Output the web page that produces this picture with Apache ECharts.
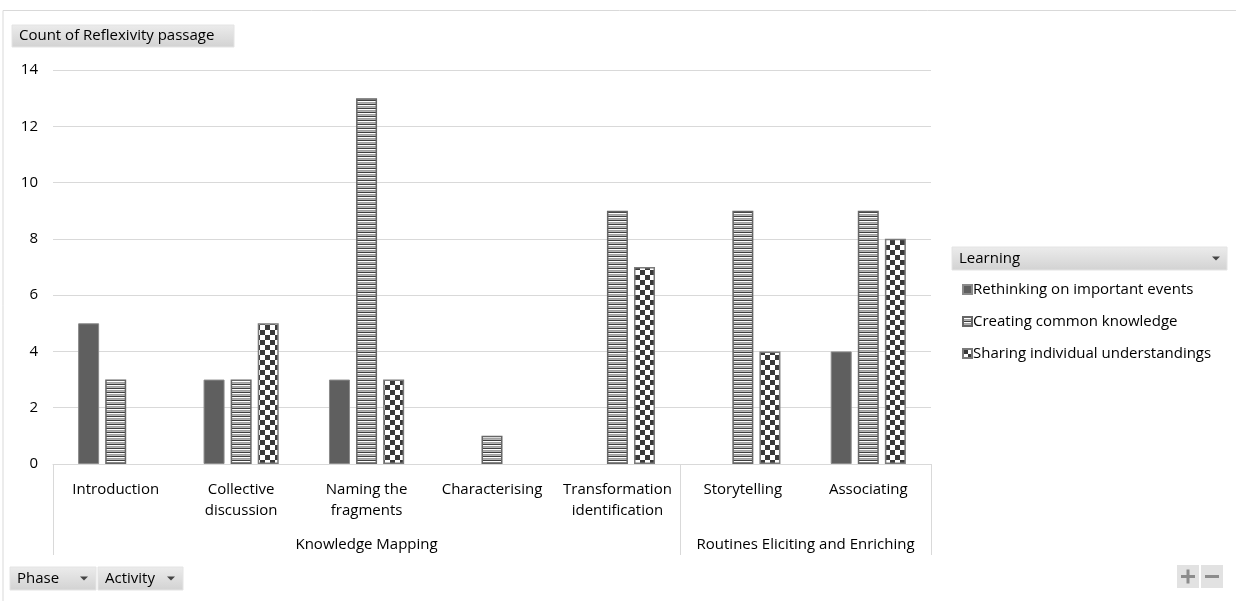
<!DOCTYPE html>
<html>
<head>
<meta charset="utf-8">
<script src="https://cdn.jsdelivr.net/npm/echarts@6/dist/echarts.min.js"></script>
<style>
	html, body {margin: 0; padding: 0; background: #fff;}
	#main {width: 1236px; height: 601px;}
</style>
</head>
<body>
<div id="main"></div>
<script>
// activities (x categories) and the phase they belong to
const activities = ['Introduction', 'Collective\ndiscussion', 'Naming the\nfragments', 'Characterising', 'Transformation\nidentification', 'Storytelling', 'Associating'];
const phases = ['Knowledge Mapping', 'Routines Eliciting and Enriching'];
const phaseSpans = [5, 2];

const seriesNames = ['Rethinking on important events', 'Creating common knowledge', 'Sharing individual understandings'];
const rethinking = [5, 3, 3, null, null, null, 4];
const creating = [3, 3, 13, 1, 9, 9, 9];
const sharing = [null, 5, 3, null, 7, 4, 8];

const yTicks = [0, 2, 4, 6, 8, 10, 12, 14];

const FONT = '"Open Sans"';
const FS = 15;

function stripes() {
	let c = document.createElement('canvas');
	c.width = 4; c.height = 4;
	let ctx = c.getContext('2d');
	let rows = ['#3f3f3f', '#ffffff', '#a0a0a0', '#b4b4b4'];
	rows.forEach((col, i) => {
		ctx.fillStyle = col;
		ctx.fillRect(0, i, 4, 1);
	});
	return c;
}

function checker() {
	let c = document.createElement('canvas');
	c.width = 10; c.height = 10;
	let ctx = c.getContext('2d');
	ctx.fillStyle = '#ffffff';
	ctx.fillRect(0, 0, 10, 10);
	ctx.fillStyle = '#3a3a3a';
	ctx.fillRect(0, 0, 5, 5);
	ctx.fillRect(5, 5, 5, 5);
	return c;
}

// phase boundaries / centres in category units
let bounds = [0];
phaseSpans.forEach(s => bounds.push(bounds[bounds.length - 1] + s));
let centres = phaseSpans.map((s, i) => bounds[i] + s / 2);

function button(x, y, w, h, label, arrow) {
	let kids = [{
		type: 'rect',
		shape: {x: x, y: y, width: w, height: h},
		style: {
			fill: new echarts.graphic.LinearGradient(0, 0, 0, 1, [
				{offset: 0, color: '#ececec'}, {offset: 1, color: '#d2d2d2'}
			]),
			stroke: '#e4e4e4', lineWidth: 1
		}
	}, {
		type: 'text',
		x: x + 7, y: y + h / 2,
		style: {text: label, font: FS + 'px ' + FONT, fill: '#000', verticalAlign: 'middle'}
	}];
	if (arrow) {
		kids.push({
			type: 'polygon',
			shape: {points: [[arrow - 4, y + h / 2 - 2], [arrow + 4, y + h / 2 - 2], [arrow, y + h / 2 + 2]]},
			style: {fill: '#444'}
		});
	}
	return {type: 'group', children: kids};
}

let myCharts = echarts.init(document.getElementById('main'));
let option = {
	animation: false,
	backgroundColor: '#fff',
	textStyle: {fontFamily: FONT},
	grid: {left: 53, right: 305, top: 70, bottom: 137},
	legend: {
		orient: 'vertical',
		left: 957, top: 277,
		itemWidth: 9, itemHeight: 9, itemGap: 17,
		icon: 'rect',
		textStyle: {fontSize: FS, color: '#000', fontFamily: FONT, padding: [0, 0, 0, -4]},
		data: seriesNames
	},
	xAxis: [{
		type: 'category',
		data: activities,
		axisLine: {lineStyle: {color: '#d9d9d9', width: 1}},
		axisTick: {show: false},
		axisLabel: {interval: 0, color: '#000', fontSize: FS, lineHeight: 21, margin: 15, fontFamily: FONT}
	}, {
		type: 'value',
		min: 0, max: activities.length,
		position: 'bottom',
		splitLine: {show: false},
		axisLine: {show: false},
		axisTick: {show: true, customValues: bounds, length: 91, lineStyle: {color: '#d9d9d9'}},
		axisLabel: {
			customValues: centres,
			formatter: v => phases[centres.indexOf(v)] || '',
			color: '#000', fontSize: FS, margin: 73, fontFamily: FONT
		}
	}],
	yAxis: {
		type: 'value',
		min: 0, max: 14, interval: 2,
		axisLine: {show: false},
		axisTick: {show: false},
		splitLine: {lineStyle: {color: '#d9d9d9'}},
		axisLabel: {
			color: '#000', fontSize: FS, margin: 15, fontFamily: FONT,
			customValues: yTicks
		}
	},
	series: [{
		name: seriesNames[0],
		type: 'bar',
		data: rethinking,
		barWidth: 21,
		barGap: '29%',
		itemStyle: {color: '#5f5f5f', borderColor: '#8a8a8a', borderWidth: 1}
	}, {
		name: seriesNames[1],
		type: 'bar',
		data: creating,
		barWidth: 21,
		barGap: '29%',
		itemStyle: {color: {image: stripes(), repeat: 'repeat'}, borderColor: '#666', borderWidth: 1.5}
	}, {
		name: seriesNames[2],
		type: 'bar',
		data: sharing,
		barWidth: 21,
		barGap: '29%',
		itemStyle: {color: {image: checker(), repeat: 'repeat'}, borderColor: '#7a7a7a', borderWidth: 1.5}
	}],
	graphic: [
		{
			type: 'polyline',
			shape: {points: [[3, 601], [3, 10.5], [1236, 10.5]]},
			style: {stroke: '#d9d9d9', fill: null, lineWidth: 1}
		},
		button(12, 25, 222, 22, 'Count of Reflexivity passage'),
		button(952, 247, 275, 23, 'Learning', 1216),
		button(10, 567, 86, 23, 'Phase', 84),
		button(98, 567, 85, 23, 'Activity', 171),
		{
			type: 'group',
			children: [
				{type: 'rect', shape: {x: 1177, y: 565, width: 22, height: 23}, style: {fill: '#e2e2e2'}},
				{type: 'rect', shape: {x: 1201, y: 565, width: 22, height: 23}, style: {fill: '#e2e2e2'}},
				{type: 'rect', shape: {x: 1181, y: 575, width: 14, height: 3}, style: {fill: '#8c8c8c'}},
				{type: 'rect', shape: {x: 1186.5, y: 569.5, width: 3, height: 14}, style: {fill: '#8c8c8c'}},
				{type: 'rect', shape: {x: 1205, y: 575, width: 14, height: 3}, style: {fill: '#8c8c8c'}}
			]
		}
	]
};
myCharts.setOption(option);
</script>
</body>
</html>
